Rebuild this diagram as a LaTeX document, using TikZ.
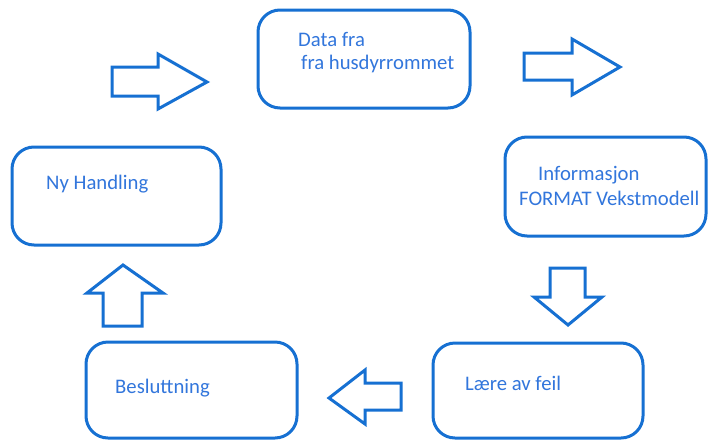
\documentclass[tikz,border=0pt]{standalone}
\usepackage{fontspec}
\setmainfont{Carlito}
\definecolor{lineblue}{RGB}{22,112,210}
\definecolor{textblue}{RGB}{50,118,220}
\begin{document}
\begin{tikzpicture}[x=1pt,y=-1pt,
  box/.style={draw=lineblue,line width=3pt,rounded corners=22pt,fill=white},
  blockarrow/.style={draw=lineblue,line width=3pt,fill=white,line join=miter},
  lbl/.style={anchor=base west,inner sep=0pt,text=textblue,font=\fontsize{20.7}{23}\selectfont}]
\useasboundingbox (0,0) rectangle (708,439);
% boxes
\draw[box] (258,10) rectangle (470,108);
\draw[box] (505,137) rectangle (706,236);
\draw[box] (12,147) rectangle (221,245);
\draw[box] (86,342) rectangle (297,438);
\draw[box] (433,343) rectangle (643,438);
% labels
\node[lbl] (t1) at (298,46) {Data fra};
\node[lbl] (t1b) at (301,69) {fra husdyrrommet};
\node[lbl] (t2) at (538,180) {Informasjon};
\node[lbl] (t2b) at (519,205) {FORMAT Vekstmodell};
\node[lbl] (t3) at (46,189) {Ny Handling};
\node[lbl] (t4) at (115,393) {Besluttning};
\node[lbl] (t5) at (465,390) {Lære av feil};
% block arrows
\draw[blockarrow] (112,67) -- (158,67) -- (158,54) -- (207,82) -- (158,109) -- (158,96) -- (112,96) -- cycle;
\draw[blockarrow] (524,53) -- (572,53) -- (572,39) -- (620,67) -- (572,95) -- (572,80) -- (524,80) -- cycle;
\draw[blockarrow] (550,268) -- (585,268) -- (585,297) -- (602,297) -- (568,325) -- (534,297) -- (550,297) -- cycle;
\draw[blockarrow] (103,326) -- (142,326) -- (142,293) -- (163,293) -- (123,265) -- (87,293) -- (103,293) -- cycle;
\draw[blockarrow] (401,383) -- (365,383) -- (365,370) -- (329,398) -- (365,424) -- (365,410) -- (401,410) -- cycle;
\end{tikzpicture}
\end{document}
